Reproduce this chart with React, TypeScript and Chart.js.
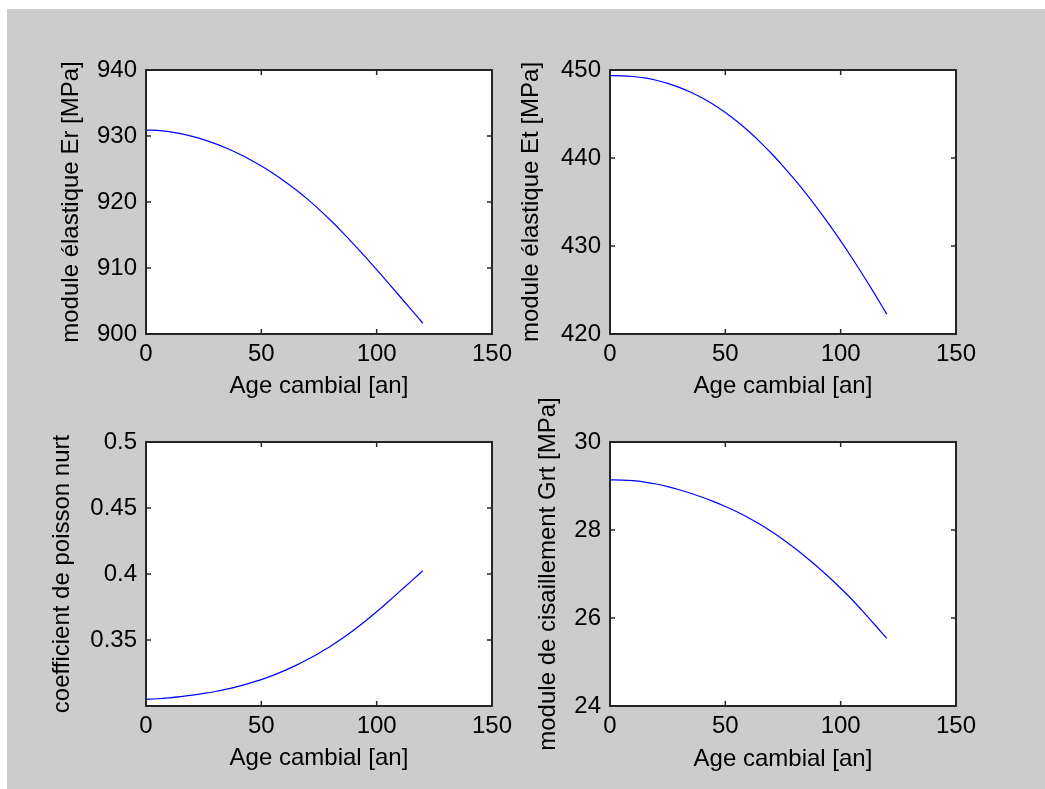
import React, { useEffect, useRef } from 'react';
import { Chart, registerables } from 'chart.js';

Chart.register(...registerables);

// ---------- data ----------
const ageCambial = [0, 5, 10, 15, 20, 25, 30, 35, 40, 45, 50, 55, 60, 65, 70, 75, 80, 85, 90, 95, 100, 105, 110, 115, 120];

const moduleEr = [930.9, 930.85, 930.65, 930.35, 929.95, 929.45, 928.85, 928.15, 927.35, 926.45, 925.45, 924.35, 923.15, 921.85, 920.43, 918.88, 917.23, 915.48, 913.63, 911.71, 909.74, 907.74, 905.72, 903.68, 901.63];
const moduleEt = [449.36, 449.34, 449.26, 449.095, 448.835, 448.48, 448.03, 447.48, 446.825, 446.055, 445.17, 444.17, 443.06, 441.84, 440.51, 439.08, 437.56, 435.95, 434.25, 432.46, 430.58, 428.61, 426.56, 424.44, 422.26];
const poissonNurt = [0.305, 0.3055, 0.3062, 0.3071, 0.3082, 0.3095, 0.311, 0.3128, 0.3149, 0.3173, 0.32, 0.3232, 0.3268, 0.3308, 0.3352, 0.34, 0.3452, 0.3511, 0.3574, 0.3642, 0.3714, 0.379, 0.3868, 0.3946, 0.4025];
const moduleGrt = [29.14, 29.135, 29.12, 29.09, 29.045, 28.985, 28.915, 28.835, 28.745, 28.645, 28.535, 28.415, 28.28, 28.13, 27.965, 27.785, 27.59, 27.38, 27.16, 26.925, 26.675, 26.415, 26.13, 25.835, 25.535];

const xRange = [0, 150];
const xTicks = [0, 50, 100, 150];
const xTickLabels = ['0', '50', '100', '150'];

const erRange = [900, 940];
const erTicks = [900, 910, 920, 930, 940];
const erTickLabels = ['900', '910', '920', '930', '940'];

const etRange = [420, 450];
const etTicks = [420, 430, 440, 450];
const etTickLabels = ['420', '430', '440', '450'];

const nuRange = [0.3, 0.5];
const nuTicks = [0.35, 0.4, 0.45, 0.5];
const nuTickLabels = ['0.35', '0.4', '0.45', '0.5'];

const grtRange = [24, 30];
const grtTicks = [24, 26, 28, 30];
const grtTickLabels = ['24', '26', '28', '30'];

const xTitle = 'Age cambial [an]';

// ---------- layout ----------
const FONT = "'Liberation Sans', Arial, Helvetica, sans-serif";
const FIG_LEFT = 7;
const FIG_TOP = 9;
const Y_AXIS_W = 110;
const X_AXIS_H = 75;
const PAD_TOP = 60;
const PAD_RIGHT = 35;

type PanelSpec = {
  values: number[];
  yRange: number[];
  yTicks: number[];
  yTickLabels: string[];
  yTitle: string;
  area: number[]; // left, top, right, bottom (page px)
  yTitleCx: number;
  xTitleCy: number;
};

const panels: PanelSpec[] = [
  { values: moduleEr, yRange: erRange, yTicks: erTicks, yTickLabels: erTickLabels, yTitle: 'module élastique Er [MPa]', area: [146, 70, 492, 334], yTitleCx: 73.3, xTitleCy: 388 },
  { values: moduleEt, yRange: etRange, yTicks: etTicks, yTickLabels: etTickLabels, yTitle: 'module élastique Et [MPa]', area: [610, 70, 956, 334], yTitleCx: 533, xTitleCy: 388 },
  { values: poissonNurt, yRange: nuRange, yTicks: nuTicks, yTickLabels: nuTickLabels, yTitle: 'coefficient de poisson nurt', area: [146, 442, 492, 706], yTitleCx: 64.5, xTitleCy: 760.5 },
  { values: moduleGrt, yRange: grtRange, yTicks: grtTicks, yTickLabels: grtTickLabels, yTitle: 'module de cisaillement Grt [MPa]', area: [610, 442, 956, 706], yTitleCx: 550, xTitleCy: 761 },
];

const boxPlugin = {
  id: 'matlabBox',
  beforeDraw(chart: any) {
    const { ctx, chartArea: a } = chart;
    ctx.save();
    ctx.fillStyle = '#ffffff';
    ctx.fillRect(a.left, a.top, a.right - a.left, a.bottom - a.top);
    ctx.restore();
  },
  afterDatasetsDraw(chart: any) {
    const { ctx, chartArea: a, scales } = chart;
    const len = 5;
    ctx.save();
    ctx.strokeStyle = '#262626';
    ctx.lineWidth = 1.5;
    ctx.beginPath();
    scales.x.ticks.forEach((t: any) => {
      const px = scales.x.getPixelForValue(t.value);
      ctx.moveTo(px, a.bottom);
      ctx.lineTo(px, a.bottom - len);
      ctx.moveTo(px, a.top);
      ctx.lineTo(px, a.top + len);
    });
    scales.y.ticks.forEach((t: any) => {
      const py = scales.y.getPixelForValue(t.value);
      ctx.moveTo(a.left, py);
      ctx.lineTo(a.left + len, py);
      ctx.moveTo(a.right, py);
      ctx.lineTo(a.right - len, py);
    });
    ctx.stroke();
    ctx.lineWidth = 2;
    ctx.strokeRect(a.left, a.top, a.right - a.left, a.bottom - a.top);
    ctx.restore();
  },
};

function Panel({ spec }: { spec: PanelSpec }) {
  const ref = useRef<HTMLCanvasElement | null>(null);
  const [ax0, ay0, ax1, ay1] = spec.area;
  const L = ax0 - Y_AXIS_W;
  const T = ay0 - PAD_TOP;
  const W = ax1 - ax0 + Y_AXIS_W + PAD_RIGHT;
  const H = ay1 - ay0 + PAD_TOP + X_AXIS_H;

  useEffect(() => {
    if (!ref.current) return;
    const yTitlePad = spec.yTitleCx - 2.1 - L - 14.4;
    const xTitlePad = ay1 + X_AXIS_H - 14.4 - (spec.xTitleCy - 2.1);
    const chart = new Chart(ref.current, {
      type: 'line',
      data: {
        datasets: [
          {
            data: ageCambial.map((x, i) => ({ x, y: spec.values[i] })),
            borderColor: '#0000ff',
            borderWidth: 1.2,
            pointRadius: 0,
            fill: false,
            cubicInterpolationMode: 'monotone',
          },
        ],
      },
      options: {
        responsive: false,
        animation: false,
        events: [],
        layout: { padding: { left: 0, top: PAD_TOP, right: PAD_RIGHT, bottom: 0 } },
        plugins: { legend: { display: false }, tooltip: { enabled: false } },
        scales: {
          x: {
            type: 'linear',
            min: xRange[0],
            max: xRange[1],
            grid: { display: false, drawTicks: false },
            border: { display: false },
            afterBuildTicks: (s: any) => {
              s.ticks = xTicks.map((v) => ({ value: v }));
            },
            afterFit: (s: any) => {
              s.height = X_AXIS_H;
            },
            ticks: {
              autoSkip: false,
              maxRotation: 0,
              padding: 5.5,
              color: '#000',
              font: { family: FONT, size: 24 },
              callback: (_v: any, i: number) => xTickLabels[i],
            },
            title: {
              display: true,
              text: xTitle,
              color: '#000',
              font: { family: FONT, size: 24 },
              padding: { top: 0, bottom: xTitlePad },
            },
          },
          y: {
            type: 'linear',
            min: spec.yRange[0],
            max: spec.yRange[1],
            grid: { display: false, drawTicks: false },
            border: { display: false },
            afterBuildTicks: (s: any) => {
              s.ticks = spec.yTicks.map((v) => ({ value: v }));
            },
            afterFit: (s: any) => {
              s.width = Y_AXIS_W;
            },
            ticks: {
              autoSkip: false,
              padding: 9,
              color: '#000',
              font: { family: FONT, size: 24 },
              callback: (_v: any, i: number) => spec.yTickLabels[i],
            },
            title: {
              display: true,
              text: spec.yTitle,
              color: '#000',
              font: { family: FONT, size: 24 },
              padding: { top: yTitlePad, bottom: 0 },
            },
          },
        },
      } as any,
      plugins: [boxPlugin],
    });
    return () => chart.destroy();
  }, []);

  return (
    <canvas
      ref={ref}
      width={W}
      height={H}
      style={{ position: 'absolute', left: L - FIG_LEFT, top: T - FIG_TOP, width: W, height: H }}
    />
  );
}

export default function App() {
  return (
    <div
      style={{
        position: 'absolute',
        left: FIG_LEFT,
        top: FIG_TOP,
        width: 1045 - FIG_LEFT,
        height: 789 - FIG_TOP,
        background: '#cccccc',
        overflow: 'hidden',
      }}
    >
      {panels.map((p, i) => (
        <Panel key={i} spec={p} />
      ))}
    </div>
  );
}
